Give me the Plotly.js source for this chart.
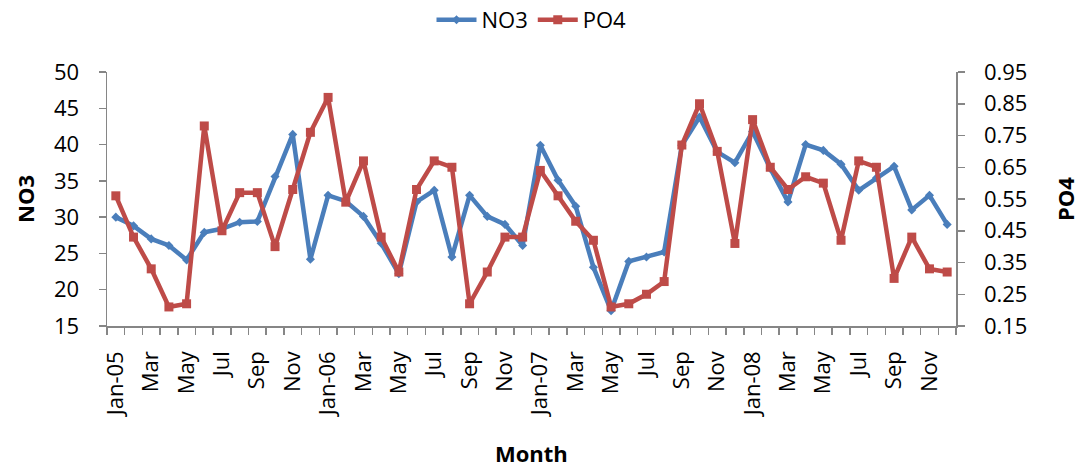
<!DOCTYPE html>
<html>
<head>
<meta charset="utf-8">
<script src="https://cdn.plot.ly/plotly-3.0.1.min.js"></script>
<style>html,body{margin:0;padding:0;background:#fff;}#chart{width:1080px;height:470px;}</style>
</head>
<body>
<div id="chart"></div>
<script>
const months = ["Jan-05","Feb-05","Mar-05","Apr-05","May-05","Jun-05","Jul-05","Aug-05","Sep-05","Oct-05","Nov-05","Dec-05",
  "Jan-06","Feb-06","Mar-06","Apr-06","May-06","Jun-06","Jul-06","Aug-06","Sep-06","Oct-06","Nov-06","Dec-06",
  "Jan-07","Feb-07","Mar-07","Apr-07","May-07","Jun-07","Jul-07","Aug-07","Sep-07","Oct-07","Nov-07","Dec-07",
  "Jan-08","Feb-08","Mar-08","Apr-08","May-08","Jun-08","Jul-08","Aug-08","Sep-08","Oct-08","Nov-08","Dec-08"];
const tickLabels = ["Jan-05","Mar","May","Jul","Sep","Nov","Jan-06","Mar","May","Jul","Sep","Nov",
  "Jan-07","Mar","May","Jul","Sep","Nov","Jan-08","Mar","May","Jul","Sep","Nov"];
const no3 = [30.0,28.8,27.0,26.1,24.1,27.9,28.4,29.3,29.4,35.6,41.4,24.2,
  33.0,32.2,30.1,26.4,22.2,32.1,33.7,24.5,33.0,30.1,29.0,26.1,
  39.9,35.1,31.5,23.1,17.1,23.9,24.5,25.2,39.9,43.8,39.0,37.5,
  41.8,36.7,32.1,40.0,39.2,37.3,33.7,35.4,37.0,31.0,33.0,29.0];
const po4 = [0.56,0.43,0.33,0.21,0.22,0.78,0.45,0.57,0.57,0.40,0.58,0.76,
  0.87,0.54,0.67,0.43,0.32,0.58,0.67,0.65,0.22,0.32,0.43,0.43,
  0.64,0.56,0.48,0.42,0.21,0.22,0.25,0.29,0.72,0.85,0.70,0.41,
  0.80,0.65,0.58,0.62,0.60,0.42,0.67,0.65,0.30,0.43,0.33,0.32];

const idx = months.map((m, i) => i);
const tickIdx = idx.filter(i => i % 2 === 0);
const font = "Open Sans, Liberation Sans, sans-serif";
const axisGrey = "#868686";

const traces = [
  {x: idx, y: no3, name: "NO3", type: "scatter", mode: "lines+markers", yaxis: "y",
   text: months, hovertemplate: "%{text}: %{y}<extra>NO3</extra>",
   line: {color: "#4A7EBB", width: 4.5}, marker: {symbol: "diamond", size: 7, color: "#4A7EBB"}},
  {x: idx, y: po4, name: "PO4", type: "scatter", mode: "lines+markers", yaxis: "y2",
   text: months, hovertemplate: "%{text}: %{y}<extra>PO4</extra>",
   line: {color: "#BE4B48", width: 4.5}, marker: {symbol: "square", size: 9, color: "#BE4B48"}}
];

const layout = {
  width: 1080, height: 470,
  margin: {l: 107, r: 124, t: 72, b: 144, autoexpand: false},
  paper_bgcolor: "#fff", plot_bgcolor: "#fff",
  font: {family: font, size: 22, color: "#000"},
  showlegend: true,
  legend: {orientation: "h", x: 0.5, xanchor: "center", y: 1.205, yanchor: "middle",
    xref: "paper", font: {size: 22}, itemwidth: 40, traceorder: "normal"},
  xaxis: {
    range: [-0.5, 47.5], tickmode: "array", tickvals: tickIdx, ticktext: tickLabels,
    tickangle: -90, ticks: "", showgrid: false, zeroline: false,
    showline: true, linecolor: axisGrey, linewidth: 1.5,
    ticklabelstandoff: 15,
    minor: {tick0: -0.5, dtick: 1, ticks: "outside", ticklen: 7, tickwidth: 1.5, tickcolor: axisGrey, showgrid: false},
    automargin: false
  },
  yaxis: {
    range: [15, 50], dtick: 5, tick0: 15, ticks: "outside", ticklen: 7, tickwidth: 1.5, tickcolor: axisGrey,
    showline: true, linecolor: axisGrey, linewidth: 1.5, showgrid: false, zeroline: false,
    ticklabelstandoff: 15, automargin: false
  },
  yaxis2: {
    overlaying: "y", side: "right",
    range: [0.15, 0.95], dtick: 0.1, tick0: 0.15, tickformat: ".2f",
    ticks: "outside", ticklen: 7, tickwidth: 1.5, tickcolor: axisGrey,
    showline: true, linecolor: axisGrey, linewidth: 1.5, showgrid: false, zeroline: false,
    ticklabelstandoff: 15, automargin: false
  },
  annotations: [
    {text: "<b>Month</b>", xref: "paper", yref: "paper", x: 0.5, y: (326 - 453) / 254,
     xanchor: "center", yanchor: "middle", showarrow: false, font: {size: 22}},
    {text: "<b>NO3</b>", xref: "paper", yref: "paper", x: (25 - 107) / 849, y: 0.5,
     xanchor: "center", yanchor: "middle", textangle: -90, showarrow: false, font: {size: 22}},
    {text: "<b>PO4</b>", xref: "paper", yref: "paper", x: (1065 - 107) / 849, y: 0.5,
     xanchor: "center", yanchor: "middle", textangle: -90, showarrow: false, font: {size: 22}}
  ]
};

Plotly.newPlot("chart", traces, layout, {displayModeBar: false, staticPlot: true});
</script>
</body>
</html>
